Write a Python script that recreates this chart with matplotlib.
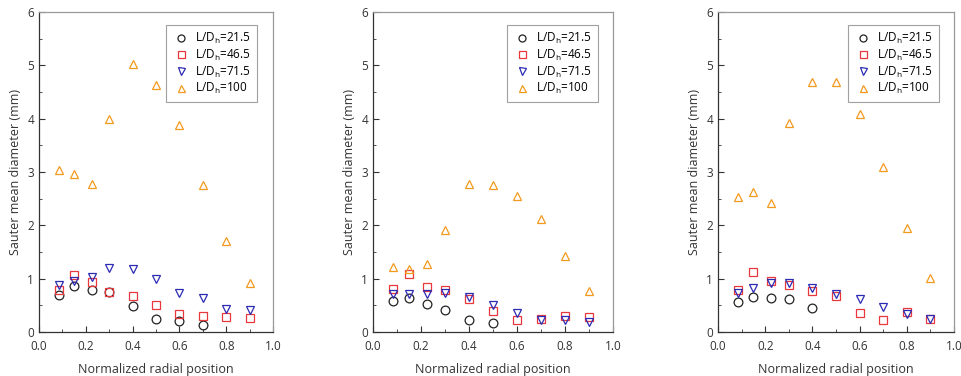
import matplotlib
matplotlib.use('Agg')
import matplotlib.pyplot as plt
from matplotlib.ticker import MultipleLocator

plt.rcParams['font.family'] = ['Open Sans', 'DejaVu Sans']
plt.rcParams['mathtext.fontset'] = 'custom'
plt.rcParams['mathtext.rm'] = 'Open Sans'

# Normalized radial positions
x = [0.085, 0.15, 0.225, 0.3, 0.4, 0.5, 0.6, 0.7, 0.8, 0.9]

labels = ['L/D$_\\mathrm{h}$=21.5', 'L/D$_\\mathrm{h}$=46.5',
          'L/D$_\\mathrm{h}$=71.5', 'L/D$_\\mathrm{h}$=100']

# Panel (a)
a_215 = [0.69, 0.86, 0.78, 0.75, 0.49, 0.24, 0.20, 0.14]
a_465 = [0.79, 1.07, 0.94, 0.75, 0.68, 0.51, 0.33, 0.30, 0.28, 0.27]
a_715 = [0.89, 0.95, 1.03, 1.20, 1.18, 1.00, 0.74, 0.64, 0.43, 0.41]
a_100 = [3.03, 2.96, 2.78, 4.00, 5.03, 4.64, 3.89, 2.76, 1.71, 0.91]

# Panel (b)
b_215 = [0.59, 0.64, 0.52, 0.41, 0.22, 0.16]
b_465 = [0.81, 1.08, 0.84, 0.79, 0.62, 0.39, 0.22, 0.25, 0.30, 0.29]
b_715 = [0.72, 0.72, 0.72, 0.74, 0.66, 0.50, 0.36, 0.22, 0.22, 0.19]
b_100 = [1.22, 1.19, 1.27, 1.91, 2.78, 2.76, 2.55, 2.11, 1.42, 0.76]

# Panel (c)
c_215 = [0.56, 0.66, 0.63, 0.61, 0.45]
c_465 = [0.79, 1.12, 0.95, 0.89, 0.77, 0.67, 0.36, 0.22, 0.37, 0.25]
c_715 = [0.74, 0.83, 0.92, 0.92, 0.83, 0.72, 0.62, 0.46, 0.34, 0.24]
c_100 = [2.54, 2.62, 2.41, 3.92, 4.69, 4.69, 4.09, 3.09, 1.95, 1.02]

panels = [(a_215, a_465, a_715, a_100),
          (b_215, b_465, b_715, b_100),
          (c_215, c_465, c_715, c_100)]

markers = ['o', 's', 'v', '^']
colors = ['#222222', '#e8383d', '#2b2bb5', '#f39a1e']
axes_left = [39, 373, 718]
axes_width = [234, 240, 236]
legend_right = [0.932, 0.9375, 0.936]

fig = plt.figure(figsize=(9.62, 3.76), dpi=100)
W, H = 962, 376

for k, series in enumerate(panels):
    ax = fig.add_axes([axes_left[k] / W, (H - 332) / H, axes_width[k] / W, 320 / H])
    for s, m, c, lab in zip(series, markers, colors, labels):
        ax.plot(x[:len(s)], s, linestyle='none', marker=m, markersize=6.3,
                markerfacecolor='none', markeredgecolor=c, markeredgewidth=0.9,
                label=lab)
    ax.set_xlim(0, 1.0)
    ax.set_ylim(0, 6)
    ax.xaxis.set_major_locator(MultipleLocator(0.2))
    ax.xaxis.set_minor_locator(MultipleLocator(0.1))
    ax.yaxis.set_major_locator(MultipleLocator(1))
    ax.yaxis.set_minor_locator(MultipleLocator(0.5))
    ax.set_xticklabels([f'{v:.1f}' for v in ax.get_xticks()])
    ax.tick_params(which='both', direction='in', labelsize=8.5, colors='#333333')
    ax.tick_params(which='major', length=4, width=0.8)
    ax.tick_params(which='minor', length=2, width=0.6)
    ax.tick_params(axis='x', pad=6)
    for side in ['left', 'bottom']:
        ax.spines[side].set_color('#333333')
        ax.spines[side].set_linewidth(0.9)
    for side in ['top', 'right']:
        ax.spines[side].set_color('#999999')
        ax.spines[side].set_linewidth(0.9)
    ax.set_xlabel('Normalized radial position', fontsize=9, color='#333333', labelpad=7)
    ax.set_ylabel('Sauter mean diameter (mm)', fontsize=9, color='#333333')
    leg = ax.legend(loc='upper right', bbox_to_anchor=(legend_right[k], 0.96),
                    borderaxespad=0, fontsize=8.5, markerscale=0.8,
                    frameon=True, fancybox=False, handletextpad=0.4,
                    borderpad=0.5, labelspacing=0.15, handlelength=1.6)
    leg.get_frame().set_edgecolor('#888888')
    leg.get_frame().set_linewidth(0.8)

fig.savefig('out.png', dpi=100)
